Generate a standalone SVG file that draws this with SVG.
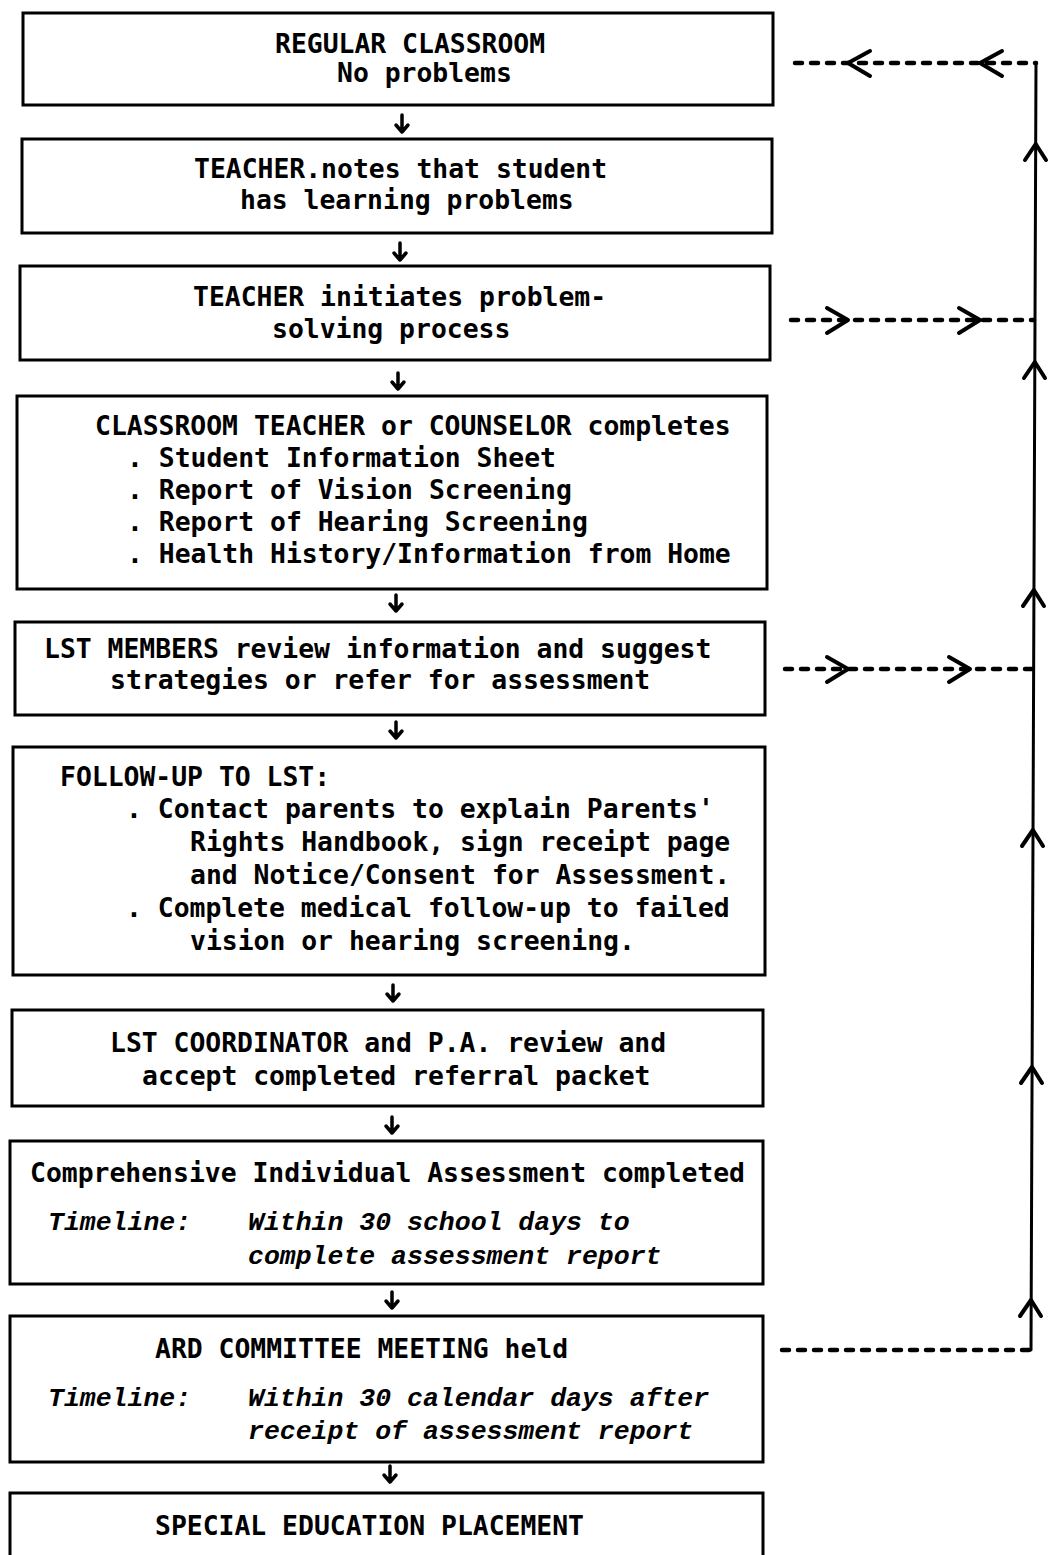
<svg xmlns="http://www.w3.org/2000/svg" width="1060" height="1555" viewBox="0 0 1060 1555">
<style>
.box{fill:#fff;stroke:#000;stroke-width:3}
.t{font-family:"DejaVu Sans Mono","Liberation Mono",monospace;font-weight:bold;font-size:26.4px;fill:#000}
.i{font-family:"Liberation Mono","DejaVu Sans Mono",monospace;font-weight:bold;font-style:italic;font-size:26.5px;fill:#000}
.ln{fill:none;stroke:#000;stroke-width:3;stroke-linecap:round;stroke-linejoin:round}
.hd{fill:none;stroke:#000;stroke-width:4;stroke-linecap:round;stroke-linejoin:round}
.dn{fill:none;stroke:#000;stroke-width:3.5;stroke-linecap:round;stroke-linejoin:round}
.dash{fill:none;stroke:#000;stroke-width:4.5;stroke-linecap:round;stroke-dasharray:7 9}
</style>
<rect width="1060" height="1555" fill="#fff"/>
<g id="connectors">
  <g class="dn">
    <path d="M402 115V132M396 125L402 132L408 125"/>
    <path d="M400 243V260M394 253L400 260L406 253"/>
    <path d="M398 373V389M392 382L398 389L404 382"/>
    <path d="M396 595V611M390 604L396 611L402 604"/>
    <path d="M396 722V738M390 731L396 738L402 731"/>
    <path d="M393 985V1001M387 994L393 1001L399 994"/>
    <path d="M392 1117V1133M386 1126L392 1133L398 1126"/>
    <path d="M392 1292V1308M386 1301L392 1308L398 1301"/>
    <path d="M390 1466V1482M384 1475L390 1482L396 1475"/>
  </g>
  <path class="ln" d="M1036 63L1031 1350"/>
  <g class="hd">
    <path d="M1025 160L1035.7 144L1046 160"/>
    <path d="M1024 378L1034.8 362L1045 378"/>
    <path d="M1023 606L1033.9 590L1044 606"/>
    <path d="M1022 846L1032.9 830L1043 846"/>
    <path d="M1021 1083L1032 1067L1042 1083"/>
    <path d="M1020 1316L1031 1300L1041 1316"/>
  </g>
  <path class="dash" d="M795 63H1036"/>
  <path class="dash" d="M791 320H1034"/>
  <path class="dash" d="M785 669H1034"/>
  <path class="dash" d="M782 1350H1031"/>
  <g class="hd">
    <path d="M870 51L848 63L870 76"/>
    <path d="M1002 51L980 63L1002 76"/>
    <path d="M827 308L848 320L827 333"/>
    <path d="M959 308L980 320L959 333"/>
    <path d="M827 657L848 669L827 682"/>
    <path d="M949 657L970 669L949 682"/>
  </g>
</g>
<g id="n1">
  <rect class="box" x="23" y="13" width="750" height="92"/>
  <text class="t" x="275" y="53">REGULAR CLASSROOM</text>
  <text class="t" x="337" y="82">No problems</text>
</g>
<g id="n2">
  <rect class="box" x="22" y="139" width="750" height="94"/>
  <text class="t" x="194" y="178">TEACHER.notes that student</text>
  <text class="t" x="240" y="209">has learning problems</text>
</g>
<g id="n3">
  <rect class="box" x="20" y="266" width="750" height="94"/>
  <text class="t" x="193" y="306">TEACHER initiates problem-</text>
  <text class="t" x="272" y="338">solving process</text>
</g>
<g id="n4">
  <rect class="box" x="17" y="396" width="750" height="193"/>
  <text class="t" x="95" y="435">CLASSROOM TEACHER or COUNSELOR completes</text>
  <text class="t" x="127" y="467">. Student Information Sheet</text>
  <text class="t" x="127" y="499">. Report of Vision Screening</text>
  <text class="t" x="127" y="531">. Report of Hearing Screening</text>
  <text class="t" x="127" y="563">. Health History/Information from Home</text>
</g>
<g id="n5">
  <rect class="box" x="15" y="622" width="750" height="93"/>
  <text class="t" x="44" y="658">LST MEMBERS review information and suggest</text>
  <text class="t" x="110" y="689">strategies or refer for assessment</text>
</g>
<g id="n6">
  <rect class="box" x="13" y="747" width="752" height="228"/>
  <text class="t" x="60" y="786">FOLLOW-UP TO LST:</text>
  <text class="t" x="126" y="818">. Contact parents to explain Parents'</text>
  <text class="t" x="190" y="851">Rights Handbook, sign receipt page</text>
  <text class="t" x="190" y="884">and Notice/Consent for Assessment.</text>
  <text class="t" x="126" y="917">. Complete medical follow-up to failed</text>
  <text class="t" x="190" y="950">vision or hearing screening.</text>
</g>
<g id="n7">
  <rect class="box" x="12" y="1010" width="751" height="96"/>
  <text class="t" x="110" y="1052">LST COORDINATOR and P.A. review and</text>
  <text class="t" x="142" y="1085">accept completed referral packet</text>
</g>
<g id="n8">
  <rect class="box" x="10" y="1141" width="753" height="143"/>
  <text class="t" x="30" y="1182">Comprehensive Individual Assessment completed</text>
  <text class="i" x="48" y="1230">Timeline:</text>
  <text class="i" x="248" y="1230">Within 30 school days to</text>
  <text class="i" x="248" y="1264">complete assessment report</text>
</g>
<g id="n9">
  <rect class="box" x="10" y="1316" width="753" height="146"/>
  <text class="t" x="155" y="1358">ARD COMMITTEE MEETING held</text>
  <text class="i" x="48" y="1406">Timeline:</text>
  <text class="i" x="248" y="1406">Within 30 calendar days after</text>
  <text class="i" x="248" y="1439">receipt of assessment report</text>
</g>
<g id="n10">
  <path class="box" d="M10 1555V1493H763V1555"/>
  <text class="t" x="155" y="1535">SPECIAL EDUCATION PLACEMENT</text>
</g>
</svg>
